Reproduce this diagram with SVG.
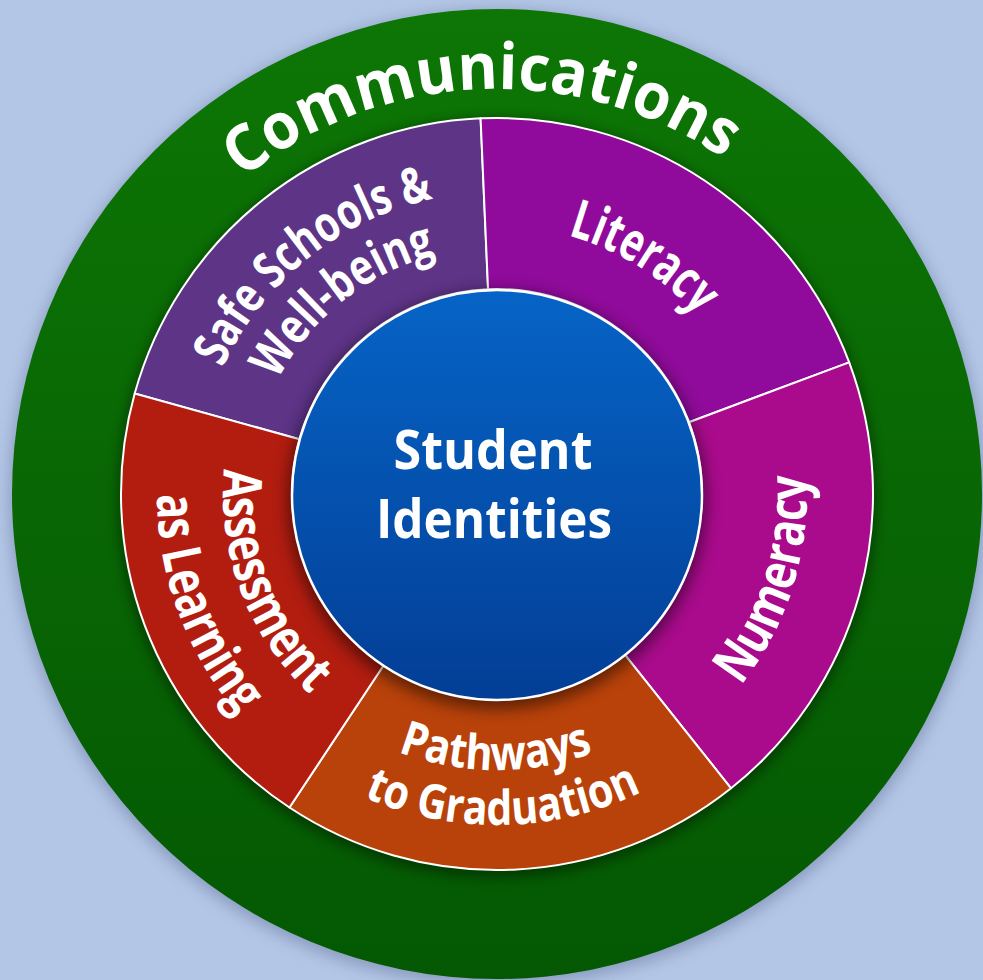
<svg xmlns="http://www.w3.org/2000/svg" width="983" height="980" viewBox="0 0 983 980">
<defs>
<linearGradient id="gGreen" x1="0" y1="0" x2="0" y2="1"><stop offset="0" stop-color="#0d7605"/><stop offset="1" stop-color="#045803"/></linearGradient>
<linearGradient id="gBlue" x1="0" y1="0" x2="0" y2="1"><stop offset="0" stop-color="#0664c6"/><stop offset="1" stop-color="#033e96"/></linearGradient>
<filter id="blur8" x="-20%" y="-20%" width="140%" height="140%"><feGaussianBlur stdDeviation="8"/></filter>
<filter id="blur6" x="-20%" y="-20%" width="140%" height="140%"><feGaussianBlur stdDeviation="6"/></filter>
<path id="pComm" d="M 92 494 A 405 405 0 0 1 902 494"/>
<path id="pSafe1" d="M 195 494 A 302 302 0 0 1 799 494"/>
<path id="pSafe2" d="M 250 494 A 247 247 0 0 1 744 494"/>
<path id="pLit" d="M 229 494 A 268 268 0 0 1 765 494"/>
<path id="pNum" d="M 497 804 A 310 310 0 0 0 497 184"/>
<path id="pPath1" d="M 221 494 A 276 276 0 0 0 773 494"/>
<path id="pPath2" d="M 166 494 A 331 331 0 0 0 828 494"/>
<path id="pAss1" d="M 497 220 A 274 274 0 0 0 497 768"/>
<path id="pAss2" d="M 497 154 A 340 340 0 0 0 497 834"/>
</defs>
<style>
.lbl{font-family:"Open Sans","Noto Sans","DejaVu Sans",sans-serif;font-weight:700;fill:#ffffff;text-anchor:middle}
.seg{stroke:#ffffff;stroke-width:2;stroke-linejoin:round}
</style>
<rect x="0" y="0" width="983" height="980" fill="#b3c6e6"/>
<circle cx="497" cy="498" r="487" fill="#3a4a70" opacity="0.35" filter="url(#blur8)"/>
<g id="communications">
<circle cx="497" cy="494" r="485" fill="url(#gGreen)"/>
<text class="lbl" font-size="64"><textPath href="#pComm" startOffset="619" textLength="516" lengthAdjust="spacingAndGlyphs">Communications</textPath></text>
</g>
<circle cx="497" cy="498" r="380" fill="#000" opacity="0.35" filter="url(#blur6)"/>
<g id="safe-schools">
<path class="seg" fill="#5e3487" d="M 134.68 393.52 A 376 376 0 0 1 480.60 118.36 L 488.06 289.19 A 205 205 0 0 0 299.46 439.22 Z"/>
<text class="lbl" font-size="50"><textPath href="#pSafe1" startOffset="270" textLength="280" lengthAdjust="spacingAndGlyphs">Safe Schools &amp;</textPath></text>
<text class="lbl" font-size="50"><textPath href="#pSafe2" startOffset="222" textLength="208" lengthAdjust="spacingAndGlyphs">Well-being</textPath></text>
</g>
<g id="literacy">
<path class="seg" fill="#900b9b" d="M 480.60 118.36 A 376 376 0 0 1 849.19 362.32 L 689.02 422.21 A 205 205 0 0 0 488.06 289.19 Z"/>
<text class="lbl" font-size="54"><textPath href="#pLit" startOffset="569.7" textLength="154" lengthAdjust="spacingAndGlyphs">Literacy</textPath></text>
</g>
<g id="numeracy">
<path class="seg" fill="#a90b8c" d="M 849.19 362.32 A 376 376 0 0 1 731.06 788.26 L 624.61 654.44 A 205 205 0 0 0 689.02 422.21 Z"/>
<text class="lbl" font-size="54"><textPath href="#pNum" startOffset="393" textLength="226" lengthAdjust="spacingAndGlyphs">Numeracy</textPath></text>
</g>
<g id="pathways">
<path class="seg" fill="#b9420a" d="M 731.06 788.26 A 376 376 0 0 1 289.47 807.54 L 383.85 664.95 A 205 205 0 0 0 624.61 654.44 Z"/>
<text class="lbl" font-size="48"><textPath href="#pPath1" startOffset="432" textLength="200" lengthAdjust="spacingAndGlyphs">Pathways</textPath></text>
<text class="lbl" font-size="48"><textPath href="#pPath2" startOffset="526" textLength="287" lengthAdjust="spacingAndGlyphs">to Graduation</textPath></text>
</g>
<g id="assessment">
<path class="seg" fill="#b21d10" d="M 289.47 807.54 A 376 376 0 0 1 134.68 393.52 L 299.46 439.22 A 205 205 0 0 0 383.85 664.95 Z"/>
<text class="lbl" font-size="54"><textPath href="#pAss1" startOffset="530" textLength="250" lengthAdjust="spacingAndGlyphs">Assessment</textPath></text>
<text class="lbl" font-size="54"><textPath href="#pAss2" startOffset="654.5" textLength="240" lengthAdjust="spacingAndGlyphs">as Learning</textPath></text>
</g>
<circle cx="497" cy="500" r="209" fill="#000" opacity="0.5" filter="url(#blur8)"/>
<g id="student-identities">
<circle cx="497" cy="495" r="205" fill="url(#gBlue)" stroke="#ffffff" stroke-width="2.5"/>
<text class="lbl" font-size="54" x="493" y="469" textLength="199" lengthAdjust="spacingAndGlyphs">Student</text>
<text class="lbl" font-size="54" x="494" y="538" textLength="236" lengthAdjust="spacingAndGlyphs">Identities</text>
</g>
<g id="connectors"/>
</svg>
